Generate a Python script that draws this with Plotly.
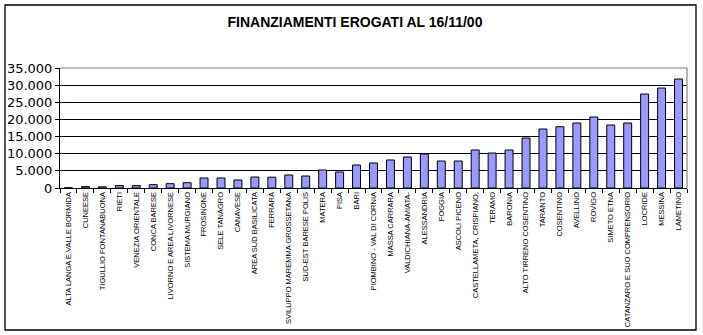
import plotly.graph_objects as go

# Territorial pacts and the funding disbursed to each (as of 16/11/2000)
patti = [
    "ALTA LANGA E VALLE BORMIDA", "CUNEESE", "TIGULLIO FONTANABUONA", "RIETI",
    "VENEZIA ORIENTALE", "CONCA BARESE", "LIVORNO E AREA LIVORNESE",
    "SISTEMA MURGIANO", "FROSINONE", "SELE TANAGRO", "CANAVESE",
    "AREA SUD BASILICATA", "FERRARA", "SVILUPPO MAREMMA GROSSETANA",
    "SUD-EST BARESE POLIS", "MATERA", "PISA", "BARI", "PIOMBINO - VAL DI CORNIA",
    "MASSA CARRARA", "VALDICHIANA-AMIATA-", "ALESSANDRIA", "FOGGIA",
    "ASCOLI PICENO", "CASTELLAMETA, CRISPIANO,", "TERAMO", "BARONIA",
    "ALTO TIRRENO COSENTINO", "TARANTO", "COSENTINO", "AVELLINO", "ROVIGO",
    "SIMETO ETNA", "CATANZARO E SUO COMPRENSORIO", "LOCRIDE", "MESSINA", "LAMETINO",
]
finanziamenti = [
    80, 400, 350, 700, 700, 970, 1260, 1550, 2920, 2920, 2330,
    3200, 3150, 3790, 3500, 5250, 4670, 6700, 7290, 8170, 9040,
    9920, 7870, 7870, 11080, 10200, 11080, 14580, 17200, 17870,
    18950, 20700, 18370, 18950, 27410, 29160, 31780,
]
y_ticks = [0, 5000, 10000, 15000, 20000, 25000, 30000, 35000]

W, H = 703, 335
L, R, T, B = 60, 16, 68, 147
pw, ph = W - L - R, H - T - B

fig = go.Figure(
    go.Bar(
        x=patti,
        y=finanziamenti,
        marker=dict(color="#9999FF", line=dict(color="black", width=1)),
    )
)


def px_x(v):
    return (v - L) / pw


def px_y(v):
    return (H - B - v) / ph


shapes = [
    # outer frame of the chart
    dict(type="rect", xref="paper", yref="paper",
         x0=px_x(5), x1=px_x(696), y0=px_y(330), y1=px_y(5),
         line=dict(color="black", width=1.3), layer="above"),
    # grey plot-area border (top and right)
    dict(type="line", xref="paper", yref="paper", x0=0, x1=1, y0=1, y1=1,
         line=dict(color="#808080", width=1.2), layer="above"),
    dict(type="line", xref="paper", yref="paper", x0=1, x1=1, y0=0, y1=1,
         line=dict(color="#808080", width=1.2), layer="above"),
]

fig.update_layout(
    width=W, height=H,
    margin=dict(l=L, r=R, t=T, b=B),
    paper_bgcolor="white", plot_bgcolor="white",
    separators=",.",
    bargap=0.53,
    showlegend=False,
    shapes=shapes,
    title=dict(
        text="<b>FINANZIAMENTI EROGATI AL 16/11/00</b>",
        x=0.505, xanchor="center", xref="container",
        y=1 - 22 / H, yanchor="middle", yref="container",
        font=dict(family="Liberation Sans", size=14, color="black"),
    ),
    xaxis=dict(
        type="category",
        tickangle=-90,
        tickfont=dict(family="Liberation Sans", size=7.5, color="black"),
        ticks="outside", ticklen=4, tickcolor="black", tickson="boundaries",
        showline=True, linecolor="black", linewidth=1,
        showgrid=False, zeroline=False, fixedrange=True, automargin=False,
    ),
    yaxis=dict(
        range=[0, 35000],
        tickvals=y_ticks,
        tickformat=",d",
        tickfont=dict(family="DejaVu Sans", size=13, color="black"),
        ticks="outside", ticklen=4, tickcolor="black",
        showline=True, linecolor="black", linewidth=1,
        showgrid=True, gridcolor="black", gridwidth=1,
        zeroline=False, fixedrange=True, automargin=False,
    ),
)

fig.write_html("out.html")
